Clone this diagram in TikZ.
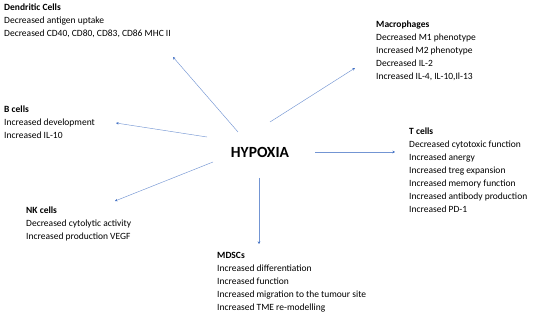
\documentclass[tikz,border=0pt]{standalone}
\usepackage{fontspec}
\setmainfont{Carlito}
\usepackage{xcolor}
\usepackage{tikz}
\usetikzlibrary{arrows.meta, positioning}

\definecolor{arrowblue}{HTML}{4472C4}

\begin{document}
\begin{tikzpicture}[
    x=1pt, y=-1pt,
    cellgroup/.style={anchor=north west, inner sep=0pt, align=left, font=\fontsize{9.5}{13}\selectfont},
    effect/.style={draw=arrowblue!75, line width=0.45pt, -{Stealth[length=2.6pt, width=2.6pt, arrowblue]}},
]
\useasboundingbox (0, 0) rectangle (550, 315);

\node[font=\fontsize{15.5}{19}\selectfont\bfseries] (hyp) at (260, 152) {HYPOXIA};

\node[cellgroup] (dc) at (4, 4) {\textbf{Dendritic Cells}\\Decreased antigen uptake\\Decreased CD40, CD80, CD83, CD86 MHC II};
\node[cellgroup] (mac) at (376, 21) {\textbf{Macrophages}\\Decreased M1 phenotype\\Increased M2 phenotype\\Decreased IL-2\\Increased IL-4, IL-10,Il-13};
\node[cellgroup] (bc) at (4, 106) {\textbf{B cells}\\Increased development\\Increased IL-10};
\node[cellgroup] (tc) at (409, 128) {\textbf{T cells}\\Decreased cytotoxic function\\Increased anergy\\Increased treg expansion\\Increased memory function\\Increased antibody production\\Increased PD-1};
\node[cellgroup] (nk) at (26, 207) {\textbf{NK cells}\\Decreased cytolytic activity\\Increased production VEGF};
\node[cellgroup] (mdsc) at (217, 252) {\textbf{MDSCs}\\Increased differentiation\\Increased function\\Increased migration to the tumour site\\Increased TME re-modelling};

% Arrow ends
\coordinate (dcS) at (238, 132);  \coordinate (dcE) at (173, 57);
\coordinate (macS) at (270, 122); \coordinate (macE) at (355, 68);
\coordinate (bcS) at (207, 137);  \coordinate (bcE) at (116, 123);
\coordinate (tcS) at (315, 152);  \coordinate (tcE) at (395, 152);
\coordinate (nkS) at (213, 162);  \coordinate (nkE) at (115, 201);
\coordinate (mdS) at (259, 178);  \coordinate (mdE) at (259, 244);

\draw[effect] (dcS) -- (dcE);
\draw[effect] (macS) -- (macE);
\draw[effect] (bcS) -- (bcE);
\draw[effect] (tcS) -- (tcE);
\draw[effect] (nkS) -- (nkE);
\draw[effect] (mdS) -- (mdE);

\end{tikzpicture}
\end{document}
